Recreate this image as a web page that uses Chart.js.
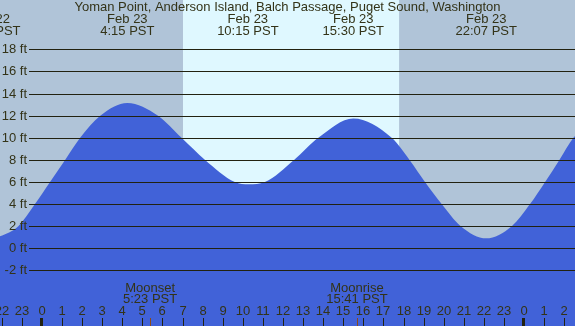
<!DOCTYPE html>
<html lang="en">
<head>
    <meta charset="UTF-8">
    <title>Tide</title>
    <style>
        * { margin: 0; padding: 0; }
        body { background: #fff; }
    </style>
</head>
<body>
    <canvas id="tideChart" width="575" height="326"></canvas>
</body>
<script src="https://cdn.jsdelivr.net/npm/chart.js@4"></script>
<script>
    // tide heights (hours from midnight Feb 23, feet)
    const hours = [-2.6, -2.09, -1.18, -0.35, 0.4, 1.15, 1.9, 2.9, 4.25, 5.78, 6.95, 8.12, 9.6, 10.3, 11.1, 12.55, 13.76, 15.5, 17.41, 18.3, 19.07, 19.9, 20.85, 22.12, 23.39, 24.3, 25.05, 25.76, 26.46, 27.2];
    const heights = [0.95, 1.1, 2, 4, 6, 8, 10, 12, 13.15, 12, 10, 8, 6, 5.79, 6, 8, 10, 11.75, 10, 8, 6, 4, 2, 0.9, 2, 4, 6, 8, 10, 11.3];

    // high / low events shown at the top
    const eventHours = [-2.6, 4.25, 10.25, 15.5, 22.12];
    const eventDates = ['Feb 22', 'Feb 23', 'Feb 23', 'Feb 23', 'Feb 23'];
    const eventTimes = ['21:24 PST', '4:15 PST', '10:15 PST', '15:30 PST', '22:07 PST'];

    // moon events at the bottom
    const moonHours = [5.383, 15.683];
    const moonNames = ['Moonset', 'Moonrise'];
    const moonTimes = ['5:23 PST', '15:41 PST'];

    // daylight
    const sunrise = 7.02;
    const sunset = 17.78;

    const yTicks = [-2, 0, 2, 4, 6, 8, 10, 12, 14, 16, 18];
    const hourTicks = [-2, -1, 0, 1, 2, 3, 4, 5, 6, 7, 8, 9, 10, 11, 12, 13, 14, 15, 16, 17, 18, 19, 20, 21, 22, 23, 24, 25, 26];
    const hourLabels = ['22', '23', '0', '1', '2', '3', '4', '5', '6', '7', '8', '9', '10', '11', '12', '13', '14', '15', '16', '17', '18', '19', '20', '21', '22', '23', '0', '1', '2'];

    const title = 'Yoman Point, Anderson Island, Balch Passage, Puget Sound, Washington';

    const nightColor = '#b0c4d8';
    const dayColor = '#dff8ff';
    const waterColor = '#4162d8';
    const textColor = '#333318';
    const lineColor = '#222210';
    const FONT = '13px "Liberation Sans", Arial, sans-serif';

    const points = hours.map((h, i) => ({ x: h, y: heights[i] }));

    const tidePlugin = {
        id: 'tide',
        beforeDraw(chart) {
            const ctx = chart.ctx;
            const x = chart.scales.x;
            ctx.save();
            ctx.fillStyle = nightColor;
            ctx.fillRect(0, 0, chart.width, chart.height);
            const x1 = x.getPixelForValue(sunrise);
            const x2 = x.getPixelForValue(sunset);
            ctx.fillStyle = dayColor;
            ctx.fillRect(x1, 0, x2 - x1, chart.height);
            ctx.restore();
        },
        afterDatasetsDraw(chart) {
            const ctx = chart.ctx;
            const x = chart.scales.x;
            const y = chart.scales.y;
            ctx.save();

            // grid lines + y labels
            ctx.strokeStyle = lineColor;
            ctx.lineWidth = 1;
            ctx.font = FONT;
            ctx.fillStyle = textColor;
            ctx.textAlign = 'right';
            ctx.textBaseline = 'middle';
            yTicks.forEach(v => {
                const py = Math.round(y.getPixelForValue(v)) + 0.5;
                ctx.beginPath();
                ctx.moveTo(29, py);
                ctx.lineTo(chart.width, py);
                ctx.stroke();
                ctx.fillText(v + ' ft', 27, py);
            });

            // title and events
            ctx.textAlign = 'center';
            ctx.fillText(title, chart.width / 2, 7);
            eventHours.forEach((h, i) => {
                const px = x.getPixelForValue(h);
                ctx.fillText(eventDates[i], px, 19.5);
                ctx.fillText(eventTimes[i], px, 31.5);
            });

            // moon events
            moonHours.forEach((h, i) => {
                const px = x.getPixelForValue(h);
                ctx.fillText(moonNames[i], px, 288);
                ctx.fillText(moonTimes[i], px, 299.5);
                ctx.fillStyle = '#8b4a1a';
                ctx.fillRect(Math.round(px), 318, 1, 8);
                ctx.fillStyle = textColor;
            });

            // hour labels and ticks
            hourTicks.forEach((h, i) => {
                const px = Math.round(x.getPixelForValue(h));
                ctx.fillText(hourLabels[i], px, 311);
                ctx.fillStyle = lineColor;
                if (hourLabels[i] === '0') ctx.fillRect(px - 2, 318, 3, 8);
                else ctx.fillRect(px, 318, 1, 8);
                ctx.fillStyle = textColor;
            });
            ctx.restore();
        }
    };

    new Chart('tideChart', {
        type: 'line',
        data: {
            datasets: [{
                data: points,
                borderWidth: 0,
                pointRadius: 0,
                fill: 'start',
                backgroundColor: waterColor,
                cubicInterpolationMode: 'monotone'
            }]
        },
        options: {
            responsive: false,
            animation: false,
            layout: { padding: 0 },
            plugins: { legend: { display: false }, tooltip: { enabled: false } },
            scales: {
                x: { type: 'linear', display: false, min: -2.091, max: 26.539 },
                y: { type: 'linear', display: false, min: -7.03, max: 22.47 }
            }
        },
        plugins: [tidePlugin]
    });
</script>
</html>
